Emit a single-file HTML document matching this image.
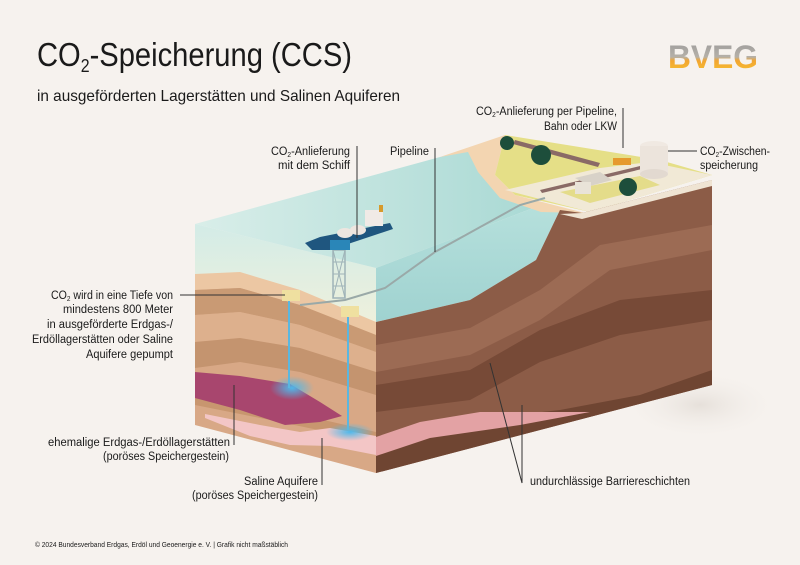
<!DOCTYPE html>
<html><head><meta charset="utf-8"><style>
html,body{margin:0;padding:0;background:#f6f2ee;}
svg{display:block;}
text{font-family:"Liberation Sans Narrow","Liberation Sans",sans-serif;fill:#1a1a1a;}
</style></head><body>
<svg width="800" height="565" viewBox="0 0 800 565" xmlns="http://www.w3.org/2000/svg">
<defs>
<linearGradient id="logo" x1="0" y1="0" x2="0" y2="1">
<stop offset="0" stop-color="#9a9a9a"/><stop offset="0.5" stop-color="#b5b0a8"/><stop offset="0.6" stop-color="#f2a531"/><stop offset="1" stop-color="#f7c531"/></linearGradient>
<linearGradient id="sea" x1="0" y1="0" x2="1" y2="0">
<stop offset="0" stop-color="#d9eee9"/><stop offset="1" stop-color="#a9d9d4"/></linearGradient>
<linearGradient id="lw" x1="0" y1="0" x2="0" y2="1">
<stop offset="0" stop-color="#d3ece7"/><stop offset="1" stop-color="#eef0dc"/></linearGradient>
<linearGradient id="fw" x1="0" y1="0" x2="0" y2="1">
<stop offset="0" stop-color="#b6e0dc"/><stop offset="1" stop-color="#9fd2d0"/></linearGradient>
<radialGradient id="glow"><stop offset="0" stop-color="#4fb8ea"/><stop offset="1" stop-color="#4fb8ea" stop-opacity="0"/></radialGradient>
<radialGradient id="shadow"><stop offset="0" stop-color="#e6e0da"/><stop offset="1" stop-color="#f6f2ee" stop-opacity="0"/></radialGradient>
</defs>

<text x="37" y="66" font-size="33" textLength="315" lengthAdjust="spacingAndGlyphs">CO<tspan font-size="18" dy="6">2</tspan><tspan dy="-6">-Speicherung (CCS)</tspan></text>
<text x="37" y="101" font-size="16" textLength="363" lengthAdjust="spacingAndGlyphs">in ausgeförderten Lagerstätten und Salinen Aquiferen</text>
<text x="668" y="68" font-size="32" font-weight="bold" fill="url(#logo)" style="fill:url(#logo)" textLength="90" lengthAdjust="spacingAndGlyphs">BVEG</text>

<ellipse cx="700" cy="405" rx="80" ry="35" fill="url(#shadow)"/>

<polygon points="195,224 376,268 376,322 195,274" fill="url(#lw)"/>
<polygon points="195,274 376,322 376,473 195,425" fill="#d8a886"/>
<polygon points="195,274 240,272 300,290 376,322 376,335 300,305 240,288 195,290" fill="#ecc7a3"/>
<polygon points="195,290 240,288 300,305 376,335 376,352 300,325 240,312 195,315" fill="#c99a74"/>
<polygon points="195,315 240,312 300,325 376,352 376,372 300,348 240,338 195,342" fill="#ddb08d"/>
<polygon points="195,342 240,338 300,348 376,372 376,395 300,372 240,362 195,368" fill="#c4946f"/>
<polygon points="195,395 280,410 376,432 376,442 280,422 195,405" fill="#c8966f"/>
<polygon points="195,372 240,376 290,384 320,402 342,416 320,422 285,425 240,410 195,398" fill="#a8466e"/>
<ellipse cx="292" cy="388" rx="22" ry="12" fill="url(#glow)"/>
<polygon points="205,414 260,425 300,432 330,428 376,436 376,455 330,446 290,445 250,436 205,418" fill="#f3c6c6"/>
<ellipse cx="350" cy="432" rx="24" ry="9" fill="url(#glow)"/>

<polygon points="195,224 440,157 470,150 478,170 500,195 541,205 376,268" fill="url(#sea)"/>
<polygon points="376,268 541,205 560,210 536,260 470,300 376,322" fill="url(#fw)"/>

<polygon points="440,157 505,135 500,155 495,175 515,195 585,213 541,212 500,198 478,172 468,152" fill="#f3d5b1"/>
<polygon points="505,135 660,160 712,175 590,212 515,195 495,175 500,155" fill="#e5df87"/>
<polygon points="505,190 600,168 650,162 712,175 590,212" fill="#f1e9d6"/>
<polygon points="560,192 640,176 660,185 590,203" fill="#e4dc8a"/>
<polygon points="515,140 600,163 598,167 513,144" fill="#8a6a66"/>
<polygon points="540,190 640,166 642,169 542,193" fill="#8a6a66"/>
<polygon points="376,322 470,300 536,260 560,210 582,213 712,180 712,385 376,473" fill="#8c5c47"/>
<polygon points="582,213 712,180 712,186 582,219 560,214" fill="#efe4d3"/>
<polygon points="376,345 470,328 540,290 600,245 712,225 712,250 610,270 540,320 470,355 376,372" fill="#9c6b54"/>
<polygon points="376,385 470,370 540,330 620,300 712,290 712,320 620,335 540,362 470,400 376,412" fill="#774a37"/>
<polygon points="376,440 470,420 560,410 640,395 712,370 712,385 376,473" fill="#6f4532"/>
<polygon points="376,437 420,422 480,412 590,412 520,425 430,438 376,456" fill="#e3a2a4"/>

<polyline points="300,305 345,300 385,288 435,252 520,205 545,198" fill="none" stroke="#9aa9a8" stroke-width="2"/>
<line x1="289" y1="300" x2="289" y2="388" stroke="#5ab7e0" stroke-width="2"/>
<line x1="348" y1="316" x2="348" y2="430" stroke="#5ab7e0" stroke-width="2"/>
<rect x="282" y="290" width="18" height="11" fill="#efe0a0"/>
<rect x="341" y="306" width="18" height="11" fill="#efe0a0"/>
<rect x="333" y="250" width="12" height="48" fill="none" stroke="#9fb3b8" stroke-width="1.5"/>
<path d="M333,262 L345,262 M333,274 L345,274 M333,286 L345,286 M333,250 L345,298 M345,250 L333,298" stroke="#9fb3b8" stroke-width="1"/>
<polygon points="305,243 320,237 390,223 393,229 330,250 312,250" fill="#1f567f"/>
<rect x="330" y="240" width="20" height="10" fill="#2a86b8"/>
<ellipse cx="345" cy="233" rx="8" ry="5" fill="#eee6e0"/>
<ellipse cx="358" cy="230" rx="8" ry="5" fill="#eee6e0"/>
<rect x="365" y="210" width="18" height="16" fill="#f0eae6"/>
<rect x="379" y="205" width="4" height="7" fill="#d79a2c"/>

<polygon points="575,178 600,172 612,180 590,186" fill="#d8d2c8"/>
<rect x="575" y="182" width="16" height="12" fill="#e9e3d8"/>
<rect x="613" y="158" width="18" height="7" fill="#e69a2e"/>
<ellipse cx="654" cy="146" rx="14" ry="5" fill="#f0e9e2"/>
<rect x="640" y="146" width="28" height="28" fill="#ece4dc"/>
<ellipse cx="654" cy="174" rx="14" ry="5" fill="#e2d9d0"/>
<circle cx="507" cy="143" r="7" fill="#1d4e3b"/>
<circle cx="541" cy="155" r="10" fill="#1d4e3b"/>
<circle cx="628" cy="187" r="9" fill="#1d4e3b"/>

<g stroke="#333" stroke-width="1" fill="none">
<line x1="623" y1="108" x2="623" y2="148"/>
<line x1="357" y1="146" x2="357" y2="238"/>
<line x1="435" y1="148" x2="435" y2="252"/>
<line x1="668" y1="151" x2="697" y2="151"/>
<line x1="180" y1="295" x2="285" y2="295"/>
<line x1="234" y1="385" x2="234" y2="445"/>
<line x1="322" y1="438" x2="322" y2="485"/>
<polyline points="490,363 522,483 522,405"/>
</g>

<g font-size="11.5">
<text x="617" y="115" text-anchor="end" textLength="141" lengthAdjust="spacingAndGlyphs">CO<tspan font-size="7" dy="2">2</tspan><tspan dy="-2">-Anlieferung per Pipeline,</tspan></text>
<text x="617" y="130" text-anchor="end" textLength="73" lengthAdjust="spacingAndGlyphs">Bahn oder LKW</text>
<text x="350" y="155" text-anchor="end" textLength="79" lengthAdjust="spacingAndGlyphs">CO<tspan font-size="7" dy="2">2</tspan><tspan dy="-2">-Anlieferung</tspan></text>
<text x="350" y="169" text-anchor="end" textLength="72" lengthAdjust="spacingAndGlyphs">mit dem Schiff</text>
<text x="390" y="155" textLength="39" lengthAdjust="spacingAndGlyphs">Pipeline</text>
<text x="700" y="155" textLength="70" lengthAdjust="spacingAndGlyphs">CO<tspan font-size="7" dy="2">2</tspan><tspan dy="-2">-Zwischen-</tspan></text>
<text x="700" y="169" textLength="58" lengthAdjust="spacingAndGlyphs">speicherung</text>
<text x="173" y="299" text-anchor="end" textLength="122" lengthAdjust="spacingAndGlyphs">CO<tspan font-size="7" dy="2">2</tspan><tspan dy="-2"> wird in eine Tiefe von</tspan></text>
<text x="173" y="313" text-anchor="end" textLength="110" lengthAdjust="spacingAndGlyphs">mindestens 800 Meter</text>
<text x="173" y="328" text-anchor="end" textLength="126" lengthAdjust="spacingAndGlyphs">in ausgeförderte Erdgas-/</text>
<text x="173" y="343" text-anchor="end" textLength="141" lengthAdjust="spacingAndGlyphs">Erdöllagerstätten oder Saline</text>
<text x="173" y="358" text-anchor="end" textLength="87" lengthAdjust="spacingAndGlyphs">Aquifere gepumpt</text>
<text x="230" y="446" text-anchor="end" textLength="182" lengthAdjust="spacingAndGlyphs">ehemalige Erdgas-/Erdöllagerstätten</text>
<text x="229" y="460" text-anchor="end" textLength="126" lengthAdjust="spacingAndGlyphs">(poröses Speichergestein)</text>
<text x="318" y="485" text-anchor="end" textLength="74" lengthAdjust="spacingAndGlyphs">Saline Aquifere</text>
<text x="318" y="499" text-anchor="end" textLength="126" lengthAdjust="spacingAndGlyphs">(poröses Speichergestein)</text>
<text x="530" y="485" textLength="160" lengthAdjust="spacingAndGlyphs">undurchlässige Barriereschichten</text>
</g>
<text x="35" y="547" font-size="7.5" textLength="253" lengthAdjust="spacingAndGlyphs">© 2024 Bundesverband Erdgas, Erdöl und Geoenergie e. V. | Grafik nicht maßstäblich</text>
</svg>
</body></html>
